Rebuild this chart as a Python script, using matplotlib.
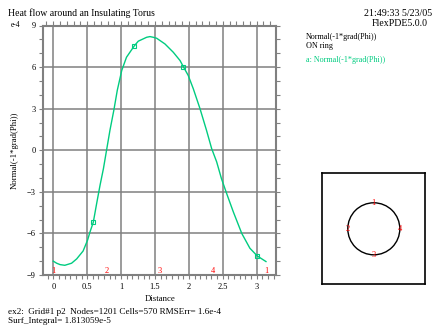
import matplotlib.pyplot as plt
from matplotlib.ticker import MultipleLocator
from matplotlib.patches import Circle

# normal flux along the ring, in units of 1e-4
distance = [0.0, 0.05, 0.10, 0.17, 0.27, 0.345, 0.44, 0.507, 0.54, 0.59,
            0.64, 0.69, 0.74, 0.79, 0.836, 0.895, 0.944, 1.01, 1.08, 1.195,
            1.254, 1.377, 1.426, 1.475, 1.525, 1.647, 1.77, 1.87, 1.917, 1.99,
            2.065, 2.164, 2.26, 2.336, 2.41, 2.48, 2.557, 2.655, 2.78, 2.9,
            3.01, 3.137]
flux = [-8.0, -8.15, -8.25, -8.3, -8.15, -7.84, -7.27, -6.47, -5.92, -5.2,
        -3.84, -2.52, -1.32, 0.12, 1.44, 2.93, 4.32, 5.76, 6.71, 7.53,
        7.87, 8.15, 8.2, 8.15, 8.08, 7.67, 7.07, 6.47, 6.04, 5.4,
        4.44, 3.0, 1.44, 0.12, -0.84, -2.04, -3.12, -4.44, -6.0, -7.07,
        -7.63, -8.03]
marker_idx = [9, 19, 28, 40]

# ring point labels and their arc-length positions
point_labels = ['1', '2', '3', '4', '1']
point_dist = [0.0, 0.785, 1.571, 2.356, 3.142]

xticks = [0, 0.5, 1, 1.5, 2, 2.5, 3]
xticklabels = ['0', '0.5', '1', '1.5', '2', '2.5', '3']
yticks = [-9, -6, -3, 0, 3, 6, 9]

W, H = 448, 336
green = '#00cc80'
gray = '#808080'
plt.rcParams['font.family'] = 'Liberation Serif'


def px(x, y):
    return x / W, 1 - y / H


fig = plt.figure(figsize=(W / 100, H / 100), dpi=100)

ax = fig.add_axes([43.3 / W, 1 - 275 / H, (276 - 43.3) / W, (275 - 25.5) / H])
ax.plot(distance, flux, color=green, lw=1, marker='s', ms=2.2, mfc='none',
        mec=green, mew=0.8, markevery=marker_idx)
ax.set_xlim(-0.147, 3.285)
ax.set_ylim(-9, 9)

ax.set_xticks(xticks)
ax.set_xticklabels(xticklabels)
ax.set_yticks(yticks)
ax.xaxis.set_minor_locator(MultipleLocator(0.5 / 6))
ax.yaxis.set_minor_locator(MultipleLocator(1))
ax.grid(True, which='major', color=gray, lw=1.1)
ax.tick_params(which='both', direction='out', color=gray, length=3, width=0.8,
               labelsize=6, pad=2.5, right=True)
for s in ax.spines.values():
    s.set_color(gray)
    s.set_linewidth(1.5)

top = ax.secondary_xaxis('top')
top.xaxis.set_major_locator(MultipleLocator(0.1))
top.tick_params(direction='out', color=gray, length=3, width=0.8, labeltop=False)
top.spines['top'].set_visible(False)

ax.set_xlabel('Distance', fontsize=6.3, labelpad=3)
fig.text(*px(15, 150), 'Normal(-1*grad(Phi))', fontsize=6.3, rotation=90,
         ha='center', va='center')

for lab, d in zip(point_labels, point_dist):
    ax.text(d, 0.0, lab, color='red', fontsize=6, ha='center', va='bottom',
            transform=ax.get_xaxis_transform(), zorder=5, clip_on=False)

fig.text(*px(16, 25), 'e-4', fontsize=5.5, ha='center', va='center')

# header and footer text
fig.text(*px(8, 13.5), 'Heat flow around an Insulating Torus', fontsize=7, va='center')
fig.text(*px(432, 13.5), '21:49:33 5/23/05', fontsize=7.2, va='center', ha='right')
fig.text(*px(428, 24), 'FlexPDE5.0.0', fontsize=7.1, va='center', ha='right')
fig.text(*px(306, 37), 'Normal(-1*grad(Phi))', fontsize=5.9, va='center')
fig.text(*px(306, 45.5), 'ON ring', fontsize=5.9, va='center')
fig.text(*px(306, 60.5), 'a: Normal(-1*grad(Phi))', fontsize=5.9, va='center', color=green)
fig.text(*px(8, 311.5), 'ex2:  Grid#1 p2  Nodes=1201 Cells=570 RMSErr= 1.6e-4',
         fontsize=6.6, va='center')
fig.text(*px(8, 321), 'Surf_Integral= 1.813059e-5', fontsize=6.6, va='center')

# inset showing the ring
inset = fig.add_axes([322.3 / W, 1 - 284.3 / H, 103 / W, 111 / H])
inset.set_xlim(-0.99, 0.99)
inset.set_ylim(-1.067, 1.067)
inset.set_xticks([])
inset.set_yticks([])
for s in inset.spines.values():
    s.set_linewidth(1.2)
inset.add_patch(Circle((0, 0), 0.5, fill=False, color='black', lw=1))
ring_xy = [(0, 0.5), (-0.5, 0), (0, -0.5), (0.5, 0)]
for lab, (cx, cy) in zip(['1', '2', '3', '4'], ring_xy):
    inset.text(cx, cy, lab, color='red', fontsize=6, ha='center', va='center')

fig.savefig('out.png', dpi=100)
